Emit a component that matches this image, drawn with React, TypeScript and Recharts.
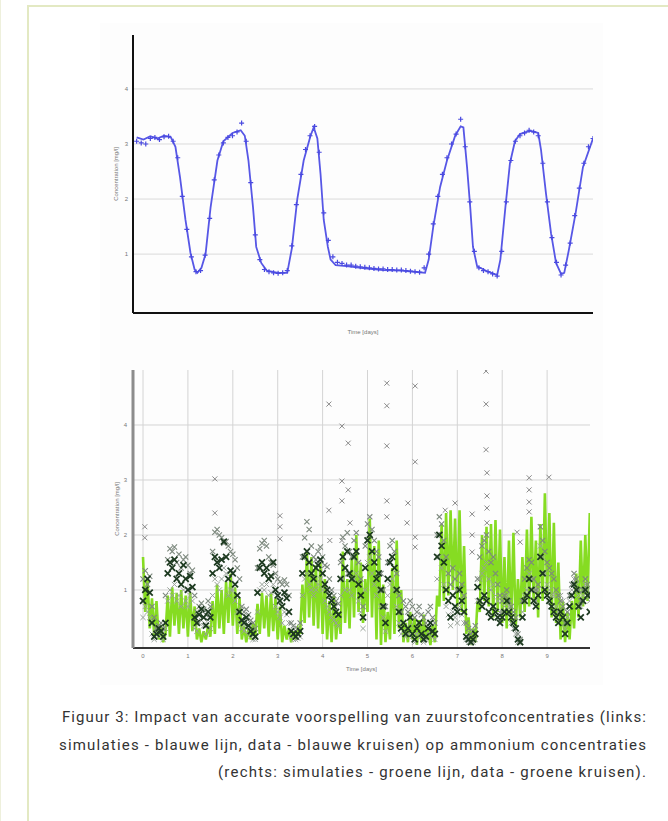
import React from 'react';
import {
    ComposedChart,
    Line,
    Scatter,
    XAxis,
    YAxis,
    CartesianGrid,
    Label
} from 'recharts';

// ---- top panel: dissolved oxygen (blue) ----
const o2SimT = [
    0, 0.15, 0.3, 0.45, 0.6, 0.75, 0.85, 0.95, 1.07, 1.18, 1.27, 1.33, 1.42, 1.51, 1.62, 1.77,
    1.9, 2.1, 2.28, 2.37, 2.45, 2.55, 2.62, 2.73, 2.85, 3.1, 3.3, 3.4, 3.52, 3.66, 3.81, 3.88,
    3.96, 4.03, 4.1, 4.19, 4.25, 4.36, 4.6, 5.0, 5.4, 5.8, 6.2, 6.32, 6.4, 6.5, 6.65, 6.8,
    6.98, 7.1, 7.16, 7.24, 7.31, 7.37, 7.46, 7.7, 7.9, 7.97, 8.08, 8.18, 8.29, 8.4, 8.62, 8.8,
    8.86, 8.97, 9.08, 9.19, 9.3, 9.37, 9.47, 9.62, 9.78, 10
];
const o2Sim = [
    3.12, 3.08, 3.14, 3.1, 3.15, 3.12, 2.95, 2.4, 1.62, 1.02, 0.72, 0.66, 0.75, 1.0, 1.85, 2.7,
    3.05, 3.2, 3.25, 3.15, 2.7, 1.85, 1.13, 0.84, 0.7, 0.66, 0.66, 1.1, 2.0, 2.7, 3.15, 3.3,
    3.1, 2.45, 1.62, 1.13, 0.9, 0.8, 0.78, 0.74, 0.71, 0.7, 0.67, 0.66, 0.9, 1.5, 2.22, 2.7,
    3.15, 3.32, 3.3, 2.58, 1.85, 1.13, 0.78, 0.68, 0.62, 0.9, 1.85, 2.65, 3.05, 3.18, 3.24, 3.2,
    2.9, 2.1, 1.38, 0.84, 0.64, 0.66, 1.07, 1.75, 2.58, 3.1
];
const o2ObsT = [
    0, 0.1, 0.2, 0.3, 0.4, 0.5, 0.6, 0.7, 0.8, 0.9,
    1, 1.1, 1.2, 1.3, 1.4, 1.5, 1.6, 1.7, 1.8, 1.9,
    2, 2.1, 2.2, 2.3, 2.4, 2.5, 2.6, 2.7, 2.8, 2.9,
    3, 3.1, 3.2, 3.3, 3.4, 3.5, 3.6, 3.7, 3.8, 3.9,
    4, 4.1, 4.2, 4.3, 4.4, 4.5, 4.6, 4.7, 4.8, 4.9,
    5, 5.1, 5.2, 5.3, 5.4, 5.5, 5.6, 5.7, 5.8, 5.9,
    6, 6.1, 6.2, 6.3, 6.4, 6.5, 6.6, 6.7, 6.8, 6.9,
    7, 7.1, 7.2, 7.3, 7.4, 7.5, 7.6, 7.7, 7.8, 7.9,
    8, 8.1, 8.2, 8.3, 8.4, 8.5, 8.6, 8.7, 8.8, 8.9,
    9, 9.1, 9.2, 9.3, 9.4, 9.5, 9.6, 9.7, 9.8, 9.9, 10
];
const o2Obs = [
    3.05, 3.02, 3.0, 3.1, 3.12, 3.08, 3.13, 3.14, 3.05, 2.75,
    2.05, 1.45, 0.95, 0.68, 0.7, 0.98, 1.65, 2.35, 2.8, 3.02,
    3.12, 3.15, 3.22, 3.38, 3.05, 2.3, 1.35, 0.9, 0.72, 0.68,
    0.66, 0.65, 0.66, 0.7, 1.15, 1.9, 2.45, 2.9, 3.15, 3.32,
    2.85, 1.75, 1.25, 0.95, 0.85, 0.83, 0.8, 0.8, 0.78, 0.77,
    0.76, 0.75, 0.74, 0.73, 0.73, 0.72, 0.72, 0.71, 0.71, 0.7,
    0.69, 0.68, 0.67, 0.75, 1.0, 1.55, 2.05, 2.45, 2.75, 3.0,
    3.18, 3.45, 2.95, 1.95, 1.05, 0.75, 0.7, 0.68, 0.64, 0.6,
    1.05, 1.95, 2.7, 3.05, 3.15, 3.2, 3.25, 3.22, 3.15, 2.65,
    1.95, 1.3, 0.85, 0.62, 0.8, 1.2, 1.7, 2.2, 2.65, 2.95, 3.1
];

// ---- bottom panel: ammonium (green) ----
const nhT = [
    0, 0.05, 0.1, 0.15, 0.2, 0.25, 0.3, 0.35, 0.4, 0.45, 0.5, 0.55, 0.6, 0.65, 0.7, 0.75, 0.8, 0.85, 0.9, 0.95,
    1, 1.05, 1.1, 1.15, 1.2, 1.25, 1.3, 1.35, 1.4, 1.45, 1.5, 1.55, 1.6, 1.65, 1.7, 1.75, 1.8, 1.85, 1.9, 1.95,
    2, 2.05, 2.1, 2.15, 2.2, 2.25, 2.3, 2.35, 2.4, 2.45, 2.5, 2.55, 2.6, 2.65, 2.7, 2.75, 2.8, 2.85, 2.9, 2.95,
    3, 3.05, 3.1, 3.15, 3.2, 3.25, 3.3, 3.35, 3.4, 3.45, 3.5, 3.55, 3.6, 3.65, 3.7, 3.75, 3.8, 3.85, 3.9, 3.95,
    4, 4.05, 4.1, 4.15, 4.2, 4.25, 4.3, 4.35, 4.4, 4.45, 4.5, 4.55, 4.6, 4.65, 4.7, 4.75, 4.8, 4.85, 4.9, 4.95,
    5, 5.05, 5.1, 5.15, 5.2, 5.25, 5.3, 5.35, 5.4, 5.45, 5.5, 5.55, 5.6, 5.65, 5.7, 5.75, 5.8, 5.85, 5.9, 5.95,
    6, 6.05, 6.1, 6.15, 6.2, 6.25, 6.3, 6.35, 6.4, 6.45, 6.5, 6.55, 6.6, 6.65, 6.7, 6.75, 6.8, 6.85, 6.9, 6.95,
    7, 7.05, 7.1, 7.15, 7.2, 7.25, 7.3, 7.35, 7.4, 7.45, 7.5, 7.55, 7.6, 7.65, 7.7, 7.75, 7.8, 7.85, 7.9, 7.95,
    8, 8.05, 8.1, 8.15, 8.2, 8.25, 8.3, 8.35, 8.4, 8.45, 8.5, 8.55, 8.6, 8.65, 8.7, 8.75, 8.8, 8.85, 8.9, 8.95,
    9, 9.05, 9.1, 9.15, 9.2, 9.25, 9.3, 9.35, 9.4, 9.45, 9.5, 9.55, 9.6, 9.65, 9.7, 9.75, 9.8, 9.85, 9.9, 9.95
];
const nhSim = [
    1.6, 0.6, 1.2, 0.3, 0.85, 0.15, 0.8, 0.1, 0.35, 0.05, 0.2, 0.9, 0.15, 1.05, 0.35, 0.95, 0.2, 1.0, 0.3, 0.9,
    0.15, 0.95, 0.25, 0.7, 0.1, 0.3, 0.05, 0.25, 0.1, 0.35, 0.15, 0.8, 0.2, 1.1, 0.3, 1.0, 0.2, 1.15, 0.4, 1.3,
    0.35, 1.05, 0.2, 0.85, 0.1, 0.35, 0.05, 0.3, 0.1, 0.4, 0.15, 0.75, 0.2, 0.95, 0.3, 0.9, 0.15, 0.95, 0.25, 0.85,
    0.1, 0.7, 0.05, 0.35, 0.1, 0.3, 0.05, 0.25, 0.1, 0.3, 0.2, 1.1, 0.4, 1.7, 0.5, 1.6, 0.35, 1.45, 0.3, 1.5,
    0.2, 1.2, 0.1, 0.8, 0.05, 0.9, 0.1, 0.6, 0.2, 1.7, 0.4, 1.2, 0.3, 1.6, 0.5, 2.0, 0.6, 1.5, 0.4, 1.2,
    0.6, 2.3, 0.5, 1.8, 0.1, 1.9, 0.0, 1.1, 0.05, 0.6, 0.1, 1.4, 0.2, 1.9, 0.3, 1.0, 0.05, 0.4, 0.05, 0.6,
    0.1, 0.5, 0.0, 0.45, 0.05, 0.55, 0.1, 0.3, 0.0, 0.35, 0.05, 0.9, 0.7, 2.2, 0.8, 2.4, 0.9, 2.45, 1.0, 2.3,
    0.7, 2.45, 0.6, 1.8, 0.2, 0.5, 0.0, 0.3, 0.05, 0.8, 0.6, 2.0, 0.8, 2.15, 0.7, 2.2, 0.5, 2.27, 0.6, 2.1,
    0.4, 1.6, 0.3, 1.9, 0.4, 2.04, 0.3, 1.2, 0.5, 1.6, 0.6, 2.1, 0.7, 2.33, 0.8, 1.9, 0.5, 2.2, 0.8, 2.76,
    0.9, 2.4, 0.5, 2.22, 0.4, 1.5, 0.1, 0.8, 0.05, 0.6, 0.1, 0.8, 0.3, 1.3, 0.5, 1.9, 0.7, 2.0, 0.8, 2.4
];
// upper grey crosses
const nhObsA = [
    1.2, 1.35, 1.1, 1.25, 0.7, 0.5, 0.3, 0.35, 0.4, 0.3, 0.9, 1.55, 1.75, 1.7, 1.78, 1.5, 1.65, 1.4, 1.55, 1.6,
    1.45, 1.3, 1.36, 0.9, 0.6, 0.7, 0.76, 0.65, 0.55, 0.8, 0.7, 1.7, 2.05, 2.1, 2.0, 1.95, 1.85, 1.88, 1.8, 1.7,
    1.65, 1.55, 1.4, 1.2, 0.7, 0.6, 0.65, 0.55, 0.45, 0.4, 0.3, 1.4, 1.75, 1.85, 1.9, 1.8, 1.6, 1.5, 1.45, 1.3,
    1.2, 1.15, 1.1, 1.18, 1.1, 0.9, 0.4, 0.35, 0.25, 0.3, 0.4, 1.6, 1.95, 2.24, 2.1, 1.8, 1.6, 1.55, 1.7, 1.78,
    1.6, 1.45, 1.42, 1.2, 1.0, 0.9, 0.8, 0.75, 1.5, 1.96, 1.8, 2.04, 1.7, 1.6, 1.9, 2.04, 1.5, 1.2, 0.7, 1.8,
    2.2, 2.33, 2.1, 1.9, 1.7, 1.6, 1.3, 1.0, 0.7, 1.5, 1.8, 1.9, 1.7, 1.3, 0.9, 0.6, 0.8, 0.7, 0.6, 0.8,
    0.7, 0.5, 0.6, 0.7, 0.55, 0.5, 0.4, 0.6, 0.7, 0.5, 0.4, 2.0, 2.33, 2.2, 1.9, 1.6, 1.3, 1.1, 1.4, 1.2,
    1.0, 1.3, 1.1, 0.9, 0.4, 0.3, 0.2, 0.25, 0.35, 1.2, 1.6, 1.8, 1.9, 2.0, 1.7, 1.5, 1.6, 1.3, 1.1, 0.9,
    0.8, 0.9, 1.0, 0.8, 0.7, 0.6, 0.5, 0.2, 0.1, 0.8, 1.2, 1.4, 1.55, 1.5, 1.2, 1.0, 1.1, 2.15, 1.9, 1.7,
    1.5, 1.4, 1.3, 1.2, 1.0, 0.9, 0.8, 0.7, 0.4, 0.6, 0.9, 1.1, 1.3, 1.2, 1.0, 0.8, 1.0, 1.2, 1.1, 0.9
];
// middle grey crosses
const nhObsC = [
    0.5, 0.7, 0.6, 0.5, 0.2, 0.1, 0.25, 0.15, 0.2, 0.1, 0.3, 0.8, 1.0, 0.9, 1.1, 0.8, 0.9, 0.7, 1.0, 0.8,
    0.7, 0.9, 0.8, 0.3, 0.25, 0.4, 0.45, 0.35, 0.2, 0.45, 0.3, 0.9, 1.2, 1.1, 1.0, 1.2, 1.4, 1.3, 0.9, 1.0,
    1.0, 0.8, 0.6, 0.4, 0.3, 0.25, 0.3, 0.2, 0.15, 0.1, 0.1, 0.6, 1.0, 1.1, 1.0, 1.1, 0.9, 0.95, 1.1, 0.7,
    0.6, 0.5, 0.4, 0.6, 0.55, 0.4, 0.15, 0.1, 0.1, 0.12, 0.15, 0.9, 1.2, 1.3, 1.1, 1.0, 0.9, 1.0, 1.1, 1.2,
    1.0, 0.8, 0.7, 0.6, 0.5, 0.45, 0.4, 0.35, 0.9, 1.2, 1.0, 1.3, 1.0, 0.9, 1.2, 1.3, 0.8, 0.6, 0.3, 1.0,
    1.5, 1.6, 1.3, 1.1, 0.9, 1.0, 0.7, 0.5, 0.25, 0.9, 1.1, 1.2, 1.0, 0.7, 0.4, 0.2, 0.25, 0.15, 0.2, 0.35,
    0.15, 0.05, 0.2, 0.25, 0.15, 0.05, 0.1, 0.2, 0.25, 0.15, 0.1, 1.2, 1.6, 1.4, 1.1, 0.7, 0.55, 0.35, 0.6, 0.5,
    0.4, 0.7, 0.55, 0.4, 0.1, 0.05, 0.03, 0.05, 0.1, 0.8, 1.2, 1.3, 1.4, 1.5, 1.2, 1.0, 1.1, 0.9, 0.8, 0.6,
    0.6, 0.7, 0.9, 0.7, 0.4, 0.3, 0.2, 0.05, 0.03, 0.6, 0.9, 1.0, 1.3, 1.2, 1.0, 0.8, 1.0, 1.8, 1.6, 1.3,
    1.1, 1.0, 0.9, 0.9, 0.7, 0.6, 0.9, 0.8, 0.3, 0.5, 0.8, 1.0, 1.2, 1.1, 0.9, 0.7, 0.9, 1.1, 1.0, 0.8
];
// dark crosses
const nhObsB = [
    0.8, 1.0, 1.2, 0.95, 0.4, 0.15, 0.2, 0.3, 0.25, 0.15, 0.4, 1.3, 1.5, 1.4, 1.55, 1.2, 1.3, 1.1, 1.45, 1.2,
    1.0, 1.25, 1.05, 0.5, 0.4, 0.55, 0.65, 0.5, 0.35, 0.6, 0.5, 1.3, 1.6, 1.5, 1.4, 1.55, 1.88, 1.6, 1.2, 1.35,
    1.3, 1.1, 0.9, 0.6, 0.45, 0.4, 0.5, 0.35, 0.25, 0.2, 0.15, 0.95, 1.4, 1.5, 1.3, 1.4, 1.2, 1.25, 1.5, 1.0,
    0.9, 0.8, 0.7, 0.95, 0.85, 0.6, 0.25, 0.2, 0.15, 0.2, 0.25, 1.3, 1.6, 1.7, 1.5, 1.3, 1.2, 1.4, 1.45, 1.55,
    1.3, 1.1, 1.0, 0.9, 0.8, 0.7, 0.6, 0.55, 1.2, 1.6, 1.4, 1.7, 1.3, 1.2, 1.6, 1.7, 1.1, 0.9, 0.5, 1.4,
    1.9, 2.0, 1.7, 1.5, 1.2, 1.3, 1.0, 0.7, 0.4, 1.2, 1.5, 1.6, 1.4, 1.0, 0.6, 0.3, 0.4, 0.2, 0.3, 0.5,
    0.2, 0.1, 0.3, 0.4, 0.2, 0.1, 0.15, 0.3, 0.4, 0.25, 0.2, 1.6, 2.0, 1.8, 1.5, 1.0, 0.8, 0.5, 0.9, 0.7,
    0.6, 1.0, 0.8, 0.6, 0.15, 0.1, 0.05, 0.1, 0.2, 1.05, 0.8, 0.7, 0.9, 0.8, 0.6, 0.5, 0.7, 0.6, 0.5, 0.4,
    0.5, 0.6, 0.8, 0.6, 0.5, 0.4, 0.3, 0.1, 0.05, 0.5, 0.8, 0.9, 1.2, 1.0, 0.8, 0.7, 0.9, 1.6, 1.3, 1.0,
    0.9, 0.8, 0.7, 0.6, 0.5, 0.4, 0.6, 0.5, 0.2, 0.4, 0.7, 0.9, 1.1, 1.0, 0.7, 0.5, 0.8, 1.0, 0.9, 0.6
];
// isolated high measurements
const nhOutT = [
    0.04, 0.04, 1.6, 1.6, 3.05, 3.05, 3.05, 4.14, 4.43, 4.57, 4.43, 4.57, 4.43, 4.14, 4.16, 4.43,
    4.61, 5.43, 5.43, 5.43, 6.06, 6.06, 5.43, 5.43, 5.9, 5.88, 6.06, 6.06, 7.64, 7.64, 7.64, 7.66,
    7.66, 7.66, 7.66, 6.95, 6.73, 7.33, 7.33, 7.33, 8.6, 8.6, 8.6, 8.6, 9.04, 8.33, 8.4
];
const nhOut = [
    2.15, 1.95, 3.02, 2.4, 2.35, 2.15, 1.93, 4.38, 3.98, 3.67, 2.98, 2.82, 2.62, 2.45, 1.9, 1.9,
    2.22, 4.76, 4.35, 3.62, 4.71, 3.33, 2.62, 2.33, 2.58, 2.22, 1.96, 1.78, 4.98, 4.38, 3.55, 3.13,
    2.71, 2.49, 2.22, 2.58, 2.45, 2.38, 2.0, 1.69, 3.04, 2.82, 2.6, 2.42, 3.05, 2.05, 1.87
];

const dayTicks = [0, 1, 2, 3, 4, 5, 6, 7, 8, 9];
const concTicks = [1, 2, 3, 4];

const captionLines = [
    'Figuur 3: Impact van accurate voorspelling van zuurstofconcentraties (links:',
    'simulaties - blauwe lijn, data - blauwe kruisen) op ammonium concentraties',
    '(rechts: simulaties - groene lijn, data - groene kruisen).'
];

const pairs = (ts: number[], vs: number[]) =>
    ts.slice(0, Math.min(ts.length, vs.length)).map((t, i) => ({ t, v: vs[i] }));

const PlusMark = (props: any) => {
    const { cx, cy } = props;
    if (cx == null || cy == null) return null;
    return <path d={`M${cx - 2.5},${cy}h5M${cx},${cy - 2.5}v5`} stroke="#4a4ae0" strokeWidth={1.2} fill="none" />;
};

const makeX = (color: string, w: number, r: number) => (props: any) => {
    const { cx, cy } = props;
    if (cx == null || cy == null) return null;
    return (
        <path
            d={`M${cx - r},${cy - r}l${2 * r},${2 * r}M${cx - r},${cy + r}l${2 * r},${-2 * r}`}
            stroke={color}
            strokeWidth={w}
            fill="none"
        />
    );
};

const GrayX = makeX('#7c887d', 1.1, 2.6);
const MidX = makeX('#97a198', 1, 2.6);
const DarkX = makeX('#1d3a20', 1.8, 3);
const OutX = makeX('#8a8a8a', 1, 2.5);

const tickStyle = { fontSize: 6, fill: '#777', fontFamily: 'Arial, sans-serif' };
const labelStyle = { fontSize: 6, fill: '#777', fontFamily: 'Arial, sans-serif' };

export default function App() {
    const o2SimData = pairs(o2SimT, o2Sim);
    const o2ObsData = pairs(o2ObsT, o2Obs);
    const nhSimData = pairs(nhT, nhSim);
    const nhAData = pairs(nhT, nhObsA);
    const nhCData = pairs(nhT, nhObsC);
    const nhBData = pairs(nhT, nhObsB);
    const nhOutData = pairs(nhOutT, nhOut);

    return (
        <div style={{ position: 'absolute', left: 0, top: 0, width: 668, height: 821, background: '#fff', overflow: 'hidden' }}>
            {/* page frame */}
            <div style={{ position: 'absolute', left: 0, top: 0, width: 1, height: 821, background: '#eef0dc' }} />
            <div style={{ position: 'absolute', left: 27, top: 5, width: 2, height: 816, background: '#e3e9c3' }} />
            <div style={{ position: 'absolute', left: 27, top: 5, width: 641, height: 2, background: '#e3e9c3' }} />
            <div style={{ position: 'absolute', left: 100, top: 23, width: 503, height: 662, background: '#fdfdfd' }} />

            <div style={{ position: 'absolute', left: 0, top: 0 }}>
                <ComposedChart width={668} height={360} margin={{ top: 35, right: 75, bottom: 17, left: 103 }}>
                    <CartesianGrid vertical={false} stroke="#dadada" syncWithTicks />
                    <XAxis
                        type="number"
                        dataKey="t"
                        domain={[-0.08, 10]}
                        allowDataOverflow
                        height={30}
                        tick={false}
                        tickLine={false}
                        axisLine={{ stroke: '#111', strokeWidth: 2 }}
                    >
                        <Label value="Time [days]" position="insideTop" offset={17} style={labelStyle} />
                    </XAxis>
                    <YAxis
                        type="number"
                        domain={[-0.07, 4.98]}
                        allowDataOverflow
                        ticks={concTicks}
                        width={30}
                        tickLine={false}
                        tickSize={3}
                        tickMargin={2}
                        tick={tickStyle}
                        axisLine={{ stroke: '#111', strokeWidth: 2 }}
                    >
                        <Label
                            value="Concentration [mg/l]"
                            angle={-90}
                            position="insideLeft"
                            offset={13}
                            style={{ ...labelStyle, textAnchor: 'middle' }}
                        />
                    </YAxis>
                    <Line
                        data={o2SimData}
                        dataKey="v"
                        type="linear"
                        stroke="#5757e6"
                        strokeWidth={1.8}
                        dot={false}
                        isAnimationActive={false}
                    />
                    <Scatter data={o2ObsData} dataKey="v" shape={PlusMark} isAnimationActive={false} />
                </ComposedChart>
            </div>

            <div style={{ position: 'absolute', left: 0, top: 360 }}>
                <ComposedChart width={668} height={330} margin={{ top: 10, right: 78, bottom: 12, left: 103 }}>
                    <CartesianGrid stroke="#d4d4d4" syncWithTicks />
                    <XAxis
                        type="number"
                        dataKey="t"
                        domain={[-0.223, 9.955]}
                        allowDataOverflow
                        ticks={dayTicks}
                        height={30}
                        tickLine={false}
                        tickSize={3}
                        tickMargin={3}
                        tick={tickStyle}
                        axisLine={{ stroke: '#333', strokeWidth: 2 }}
                    >
                        <Label value="Time [days]" position="insideTop" offset={19} style={labelStyle} />
                    </XAxis>
                    <YAxis
                        type="number"
                        domain={[-0.055, 5]}
                        allowDataOverflow
                        ticks={concTicks}
                        width={30}
                        tickLine={false}
                        tickSize={3}
                        tickMargin={3}
                        tick={tickStyle}
                        axisLine={{ stroke: '#8c8c8c', strokeWidth: 3 }}
                    >
                        <Label
                            value="Concentration [mg/l]"
                            angle={-90}
                            position="insideLeft"
                            offset={14}
                            style={{ ...labelStyle, textAnchor: 'middle' }}
                        />
                    </YAxis>
                    <Scatter data={nhOutData} dataKey="v" shape={OutX} isAnimationActive={false} />
                    <Scatter data={nhCData} dataKey="v" shape={MidX} isAnimationActive={false} />
                    <Scatter data={nhAData} dataKey="v" shape={GrayX} isAnimationActive={false} />
                    <Line
                        data={nhSimData}
                        dataKey="v"
                        type="linear"
                        stroke="#86dc22"
                        strokeWidth={2.6}
                        dot={false}
                        isAnimationActive={false}
                    />
                    <Scatter data={nhBData} dataKey="v" shape={DarkX} isAnimationActive={false} />
                </ComposedChart>
            </div>

            <svg style={{ position: 'absolute', left: 0, top: 690 }} width={668} height={110}>
                {captionLines.map((line, i) => {
                    const starts = [62, 59, 218];
                    const baselines = [32, 60, 87];
                    return (
                        <text
                            key={i}
                            x={646}
                            y={baselines[i]}
                            textAnchor="end"
                            textLength={646 - starts[i]}
                            lengthAdjust="spacing"
                            fontFamily="Roboto, 'Noto Sans', sans-serif"
                            fontSize={15}
                            fill="#333"
                        >
                            {line}
                        </text>
                    );
                })}
            </svg>
        </div>
    );
}
